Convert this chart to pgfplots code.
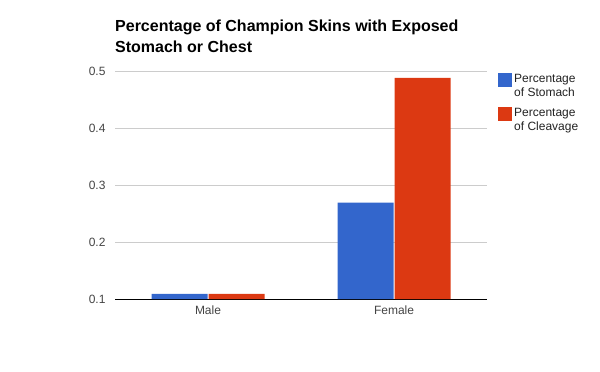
\documentclass[border=0pt]{standalone}
\usepackage{pgfplots}
\pgfplotsset{compat=1.18}
\usepackage{fontspec}
\setmainfont{Liberation Sans}
\definecolor{gblue}{HTML}{3366CC}
\definecolor{gred}{HTML}{DC3912}
\definecolor{gridgray}{HTML}{CCCCCC}
\definecolor{labgray}{HTML}{444444}
\definecolor{legtext}{HTML}{222222}
\begin{document}
\begin{tikzpicture}[x=1bp,y=1bp]
\path[use as bounding box] (0,0) rectangle (600,371);
\node[anchor=north west, align=left, inner sep=0pt, font=\bfseries\fontsize{16bp}{21bp}\selectfont] at (115,351) {Percentage of Champion Skins with Exposed\\Stomach or Chest};
\begin{axis}[
  at={(115bp,72bp)}, anchor=south west,
  scale only axis, width=372bp, height=228bp,
  xmin=-0.5, xmax=1.5, ymin=0.1, ymax=0.5,
  xtick={0,1}, xticklabels={Male,Female},
  ytick={0.2,0.3,0.4,0.5},
  extra y ticks={0.1},
  extra y tick style={grid style={black, line width=0.9bp}},
  ymajorgrids, grid style={gridgray, line width=0.8bp},
  major tick length=0pt,
  axis line style={draw=none},
  /pgf/number format/assume math mode=true,
  /pgf/number format/fixed, /pgf/number format/fixed zerofill, /pgf/number format/precision=1,
  tick label style={font=\fontsize{12bp}{14bp}\selectfont, text=labgray},
  yticklabel style={xshift=-6bp},
  xticklabel style={yshift=-3bp},
  ybar, bar width=56bp,
  legend style={at={(rel axis cs:1,1)}, anchor=north west, xshift=11bp, yshift=-1bp, draw=none, fill=none, inner sep=0pt, row sep=6bp, font=\fontsize{12bp}{14bp}\selectfont, text=legtext, nodes={align=left, inner sep=2bp}},
  legend cell align=left,
  legend image code/.code={\fill[#1,draw=none] (0bp,-1bp) rectangle (14bp,13bp);},
  legend style={/tikz/every odd column/.append style={xshift=0bp}, /tikz/every even column/.append style={xshift=3bp}},
]
\addplot[fill=gblue, draw=none, bar shift=-28.5bp] coordinates {(0,0.109) (1,0.269)};
\addlegendentry{Percentage\\of Stomach}
\addplot[fill=gred, draw=none, bar shift=28.5bp] coordinates {(0,0.109) (1,0.488)};
\addlegendentry{Percentage\\of Cleavage}
\end{axis}
\end{tikzpicture}
\end{document}
